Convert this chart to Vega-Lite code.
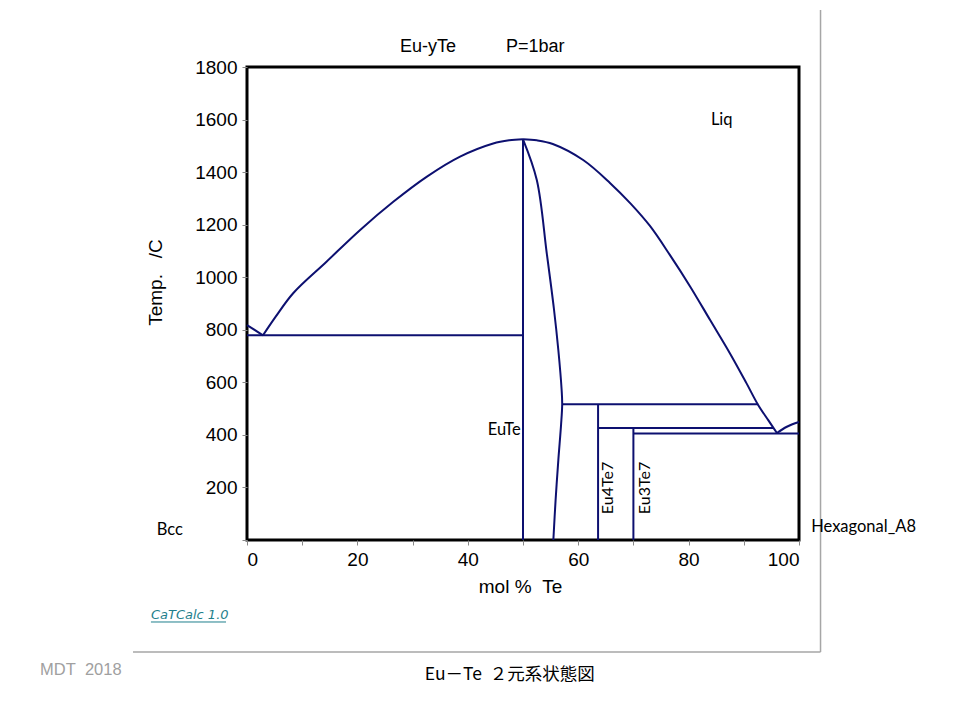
{
  "$schema": "https://vega.github.io/schema/vega-lite/v6.json",
  "width": 552,
  "height": 473,
  "autosize": {"type": "none"},
  "padding": {"left": 247, "top": 67, "right": 161, "bottom": 180},
  "background": "white",
  "config": {
    "view": {"stroke": "black", "strokeWidth": 3},
    "axis": {"grid": false, "domain": false, "tickColor": "#888888", "tickSize": 5, "labelFont": "Liberation Sans", "labelFontSize": 19, "labelColor": "black", "titleFont": "Liberation Sans", "titleFontSize": 19, "titleFontWeight": "normal", "titleColor": "black"}
  },
  "datasets": {
    "lines": [
      {"seg": "A", "i": 0, "x": 0, "T": 818}, {"seg": "A", "i": 1, "x": 2.9, "T": 779},
      {"seg": "B", "i": 0, "x": 2.9, "T": 779}, {"seg": "B", "i": 1, "x": 5.2, "T": 850}, {"seg": "B", "i": 2, "x": 8.4, "T": 940}, {"seg": "B", "i": 3, "x": 14.4, "T": 1059}, {"seg": "B", "i": 4, "x": 20.5, "T": 1180}, {"seg": "B", "i": 5, "x": 26.5, "T": 1287}, {"seg": "B", "i": 6, "x": 32.6, "T": 1383}, {"seg": "B", "i": 7, "x": 38.6, "T": 1459}, {"seg": "B", "i": 8, "x": 44.6, "T": 1509}, {"seg": "B", "i": 9, "x": 47.5, "T": 1521}, {"seg": "B", "i": 10, "x": 50, "T": 1525},
      {"seg": "C", "i": 0, "x": 50, "T": 1525}, {"seg": "C", "i": 1, "x": 52.5, "T": 1521}, {"seg": "C", "i": 2, "x": 55.4, "T": 1507}, {"seg": "C", "i": 3, "x": 60.9, "T": 1446}, {"seg": "C", "i": 4, "x": 65.8, "T": 1358}, {"seg": "C", "i": 5, "x": 69.5, "T": 1280}, {"seg": "C", "i": 6, "x": 73.0, "T": 1195}, {"seg": "C", "i": 7, "x": 76.6, "T": 1085}, {"seg": "C", "i": 8, "x": 80.3, "T": 964}, {"seg": "C", "i": 9, "x": 83.9, "T": 837}, {"seg": "C", "i": 10, "x": 87.5, "T": 710}, {"seg": "C", "i": 11, "x": 90.5, "T": 596}, {"seg": "C", "i": 12, "x": 92.6, "T": 514}, {"seg": "C", "i": 13, "x": 94.4, "T": 457}, {"seg": "C", "i": 14, "x": 96, "T": 407},
      {"seg": "D", "i": 0, "x": 96, "T": 407}, {"seg": "D", "i": 1, "x": 97.8, "T": 431}, {"seg": "D", "i": 2, "x": 100, "T": 449},
      {"seg": "E", "i": 0, "x": 0, "T": 779}, {"seg": "E", "i": 1, "x": 50, "T": 779},
      {"seg": "F", "i": 0, "x": 50, "T": 0}, {"seg": "F", "i": 1, "x": 50, "T": 1525},
      {"seg": "G", "i": 0, "x": 50, "T": 1525}, {"seg": "G", "i": 1, "x": 52.5, "T": 1370}, {"seg": "G", "i": 2, "x": 54.3, "T": 1092}, {"seg": "G", "i": 3, "x": 55.6, "T": 880}, {"seg": "G", "i": 4, "x": 56.4, "T": 723}, {"seg": "G", "i": 5, "x": 57.0, "T": 571}, {"seg": "G", "i": 6, "x": 57.1, "T": 517}, {"seg": "G", "i": 7, "x": 56.9, "T": 440}, {"seg": "G", "i": 8, "x": 56.4, "T": 304}, {"seg": "G", "i": 9, "x": 55.9, "T": 150}, {"seg": "G", "i": 10, "x": 55.5, "T": 0},
      {"seg": "H", "i": 0, "x": 57.1, "T": 517}, {"seg": "H", "i": 1, "x": 92.6, "T": 517},
      {"seg": "I", "i": 0, "x": 63.6, "T": 0}, {"seg": "I", "i": 1, "x": 63.6, "T": 517},
      {"seg": "J", "i": 0, "x": 63.6, "T": 426}, {"seg": "J", "i": 1, "x": 95.3, "T": 426},
      {"seg": "K", "i": 0, "x": 70, "T": 0}, {"seg": "K", "i": 1, "x": 70, "T": 426},
      {"seg": "L", "i": 0, "x": 70, "T": 405}, {"seg": "L", "i": 1, "x": 100, "T": 405}
    ]
  },
  "layer": [
    {
      "data": {"name": "lines"},
      "transform": [{"filter": {"field": "seg", "oneOf": ["A", "E", "F", "H", "I", "J", "K", "L"]}}],
      "mark": {"type": "line", "color": "#0d1070", "strokeWidth": 2},
      "encoding": {
        "x": {"field": "x", "type": "quantitative", "scale": {"domain": [0, 100], "nice": false}, "axis": {"values": [0,5,10,15,20,25,30,35,40,45,50,55,60,65,70,75,80,85,90,95,100], "labelExpr": "datum.value % 20 === 0 ? datum.label : ''", "labelPadding": 5, "title": "mol\u00a0%\u00a0\u00a0Te", "titleX": 273, "titleY": 46, "titleBaseline": "middle", "titleAlign": "center"}},
        "y": {"field": "T", "type": "quantitative", "scale": {"domain": [0, 1800], "nice": false}, "axis": {"values": [0,100,200,300,400,500,600,700,800,900,1000,1100,1200,1300,1400,1500,1600,1700,1800], "labelExpr": "datum.value % 200 === 0 && datum.value > 0 ? datum.label : ''", "labelPadding": 5, "format": "d", "title": "Temp.\u00a0\u00a0\u00a0/C", "titleX": -92, "titleY": 215, "titleBaseline": "middle", "titleAlign": "center"}},
        "detail": {"field": "seg"},
        "order": {"field": "i", "type": "quantitative"}
      }
    },
    {
      "data": {"name": "lines"},
      "transform": [{"filter": {"field": "seg", "oneOf": ["B", "C", "D", "G"]}}],
      "mark": {"type": "line", "color": "#0d1070", "strokeWidth": 2, "interpolate": "catmull-rom"},
      "encoding": {
        "x": {"field": "x", "type": "quantitative"},
        "y": {"field": "T", "type": "quantitative"},
        "detail": {"field": "seg"},
        "order": {"field": "i", "type": "quantitative"}
      }
    },
    {
      "data": {"values": [
        {"x": 103.9, "x2": 103.9, "T": 2017, "T2": -426},
        {"x": -20.65, "x2": 103.9, "T": -426, "T2": -426}
      ]},
      "mark": {"type": "rule", "color": "#a6a6a6", "strokeWidth": 1.5},
      "encoding": {
        "x": {"field": "x", "type": "quantitative"},
        "x2": {"field": "x2"},
        "y": {"field": "T", "type": "quantitative"},
        "y2": {"field": "T2"}
      }
    },
    {
      "data": {"values": [
        {"label": "Liq", "x": 86, "T": 1598},
        {"label": "EuTe", "x": 46.6, "T": 418},
        {"label": "Bcc", "x": -14, "T": 38},
        {"label": "Hexagonal_A8", "x": 111.7, "T": 49}
      ]},
      "mark": {"type": "text", "font": "Lato", "fontSize": 16.5, "color": "black", "align": "center", "baseline": "middle"},
      "encoding": {
        "x": {"field": "x", "type": "quantitative"},
        "y": {"field": "T", "type": "quantitative"},
        "text": {"field": "label"}
      }
    },
    {
      "data": {"values": [
        {"label": "Eu4Te7", "x": 65.4, "T": 198},
        {"label": "Eu3Te7", "x": 72.1, "T": 198}
      ]},
      "mark": {"type": "text", "font": "Lato", "fontSize": 16, "color": "black", "align": "center", "baseline": "middle", "angle": 270},
      "encoding": {
        "x": {"field": "x", "type": "quantitative"},
        "y": {"field": "T", "type": "quantitative"},
        "text": {"field": "label"}
      }
    },
    {
      "data": {"values": [
        {"label": "Eu-yTe", "x": 32.8, "T": 1876},
        {"label": "P=1bar", "x": 52.2, "T": 1876}
      ]},
      "mark": {"type": "text", "font": "Liberation Sans", "fontSize": 18, "color": "black", "align": "center", "baseline": "middle"},
      "encoding": {
        "x": {"field": "x", "type": "quantitative"},
        "y": {"field": "T", "type": "quantitative"},
        "text": {"field": "label"}
      }
    },
    {
      "data": {"values": [{"label": "CaTCalc 1.0", "x": -17.4, "T": -285}]},
      "mark": {"type": "text", "font": "DejaVu Sans", "fontStyle": "italic", "fontSize": 13, "color": "#1f7f8c", "align": "left", "baseline": "middle"},
      "encoding": {
        "x": {"field": "x", "type": "quantitative"},
        "y": {"field": "T", "type": "quantitative"},
        "text": {"field": "label"}
      }
    },
    {
      "data": {"values": [{"x": -17.4, "x2": -3.8, "T": -312}]},
      "mark": {"type": "rule", "color": "#1f7f8c", "strokeWidth": 1},
      "encoding": {
        "x": {"field": "x", "type": "quantitative"},
        "x2": {"field": "x2"},
        "y": {"field": "T", "type": "quantitative"}
      }
    },
    {
      "data": {"values": [{"label": "MDT\u00a0\u00a02018", "x": -37.5, "T": -495}]},
      "mark": {"type": "text", "font": "Liberation Sans", "fontSize": 16.5, "color": "#a0a0a0", "align": "left", "baseline": "middle"},
      "encoding": {
        "x": {"field": "x", "type": "quantitative"},
        "y": {"field": "T", "type": "quantitative"},
        "text": {"field": "label"}
      }
    },
    {
      "data": {"values": [{"label": "Eu－Te\u00a0\u00a0２元系状態図", "x": 47.6, "T": -514}]},
      "mark": {"type": "text", "font": "Noto Sans CJK JP", "fontSize": 17.5, "color": "black", "align": "center", "baseline": "middle"},
      "encoding": {
        "x": {"field": "x", "type": "quantitative"},
        "y": {"field": "T", "type": "quantitative"},
        "text": {"field": "label"}
      }
    }
  ]
}
